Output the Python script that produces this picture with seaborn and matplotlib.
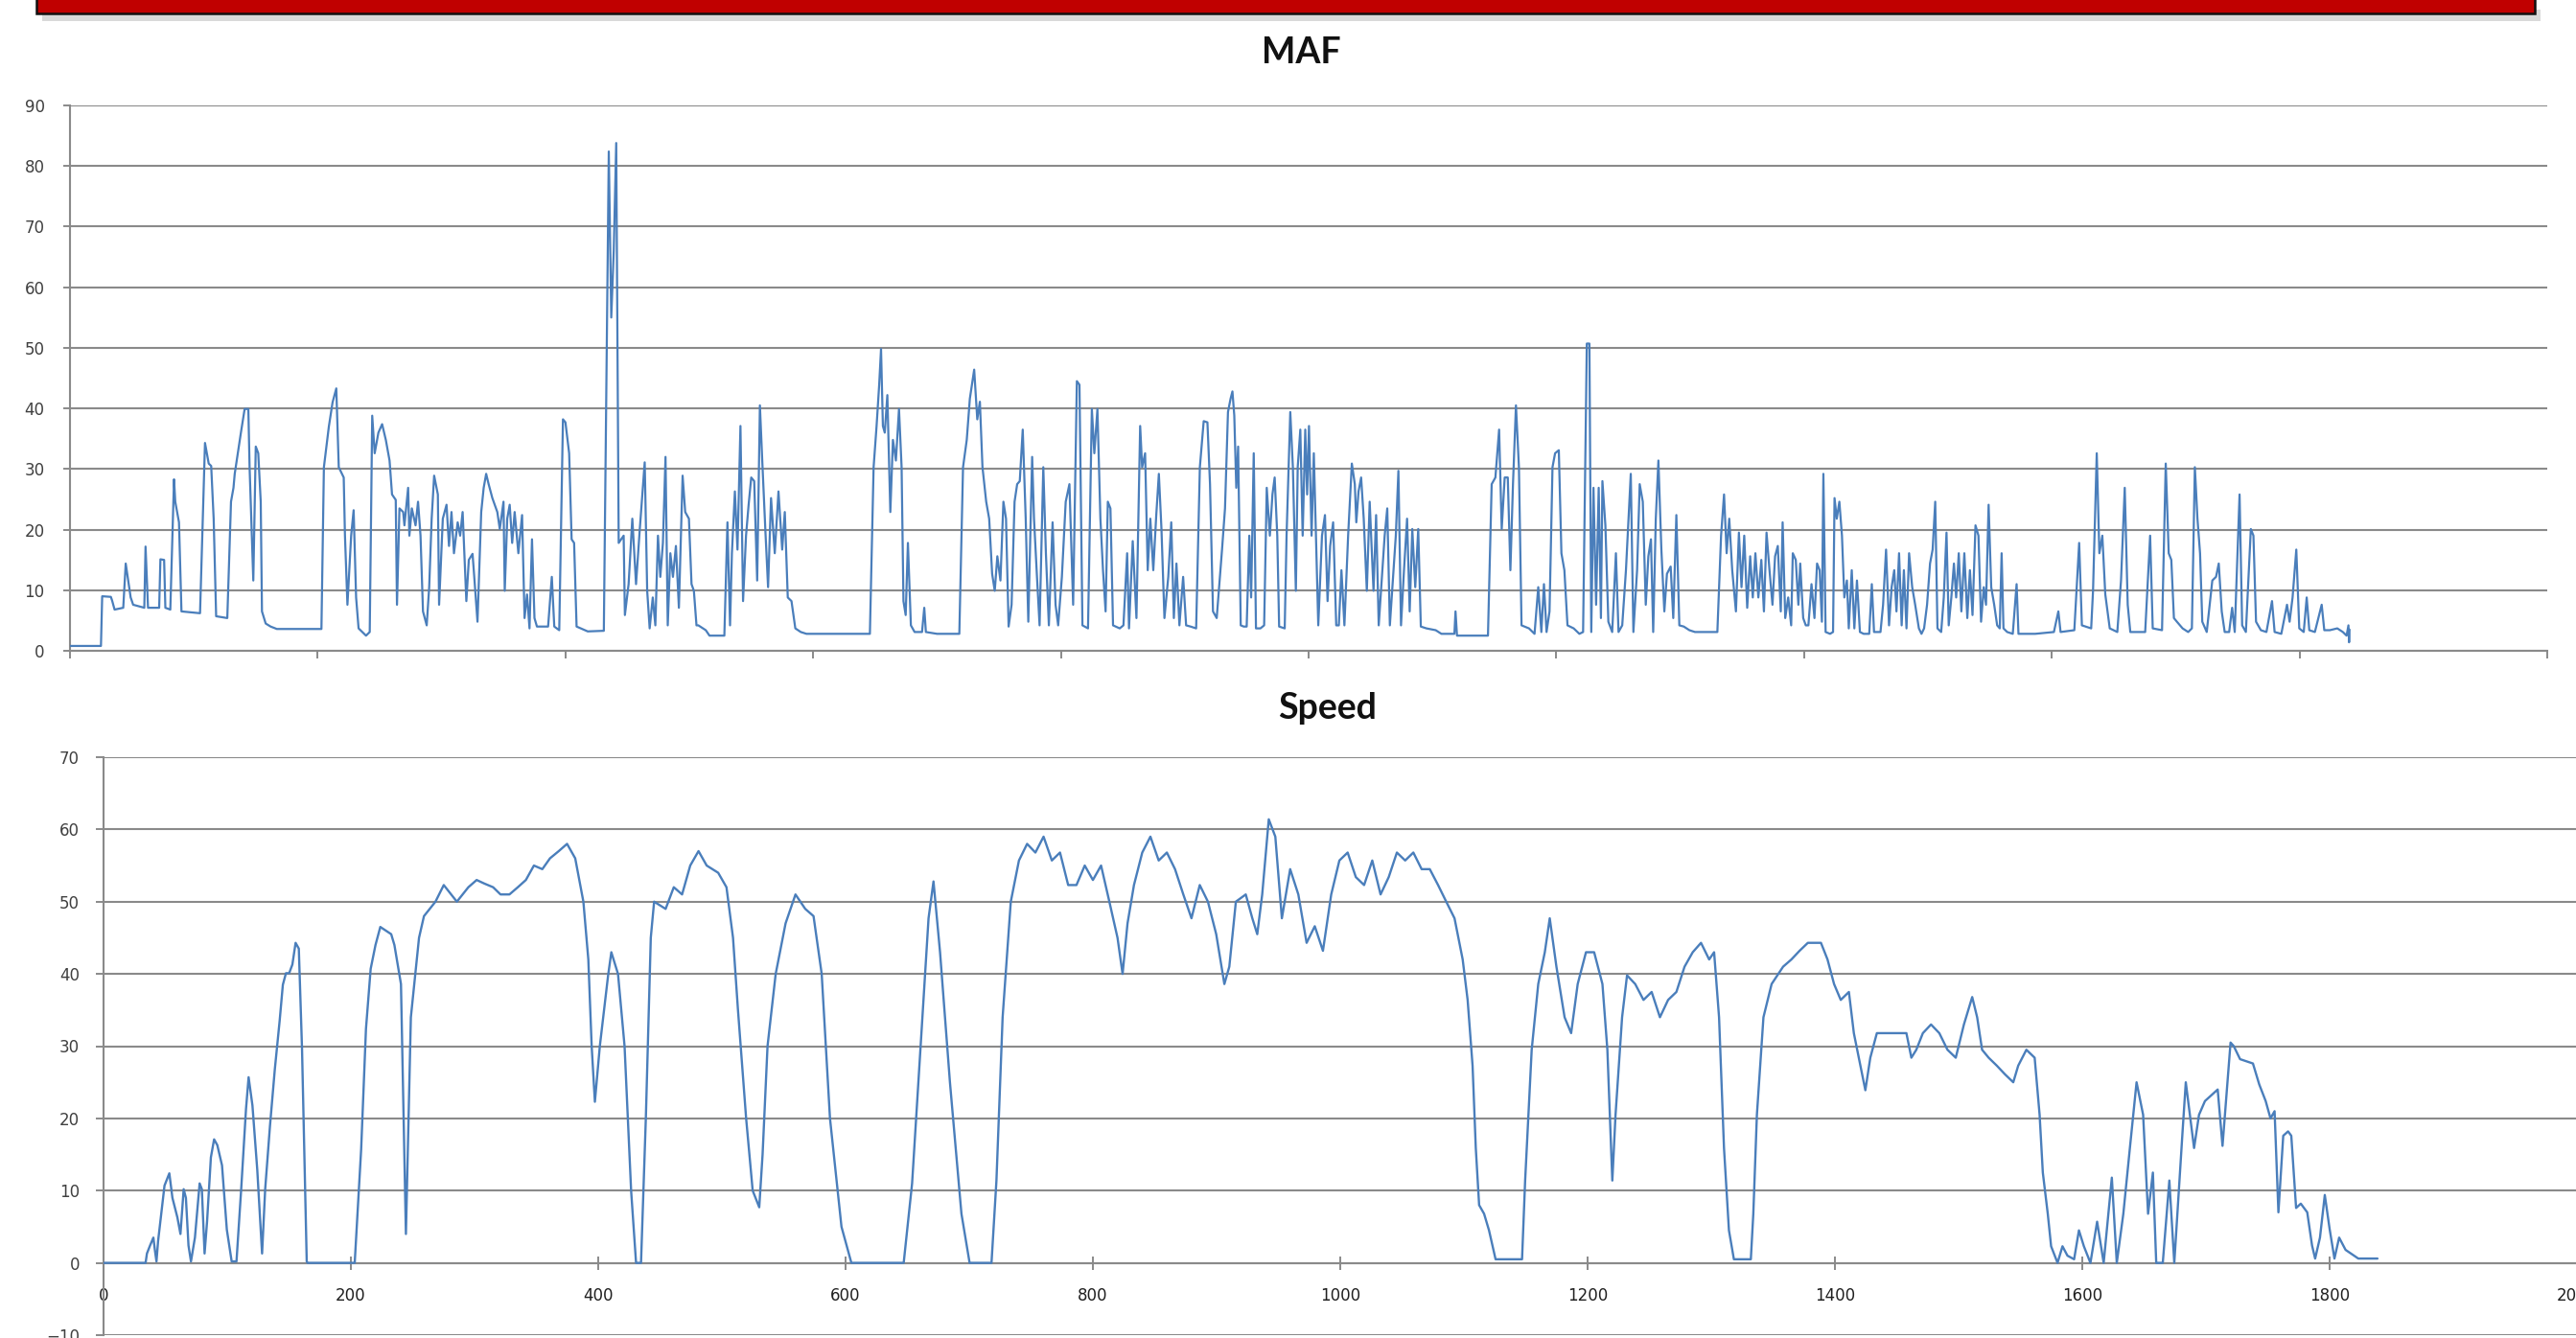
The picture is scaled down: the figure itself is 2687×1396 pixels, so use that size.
import matplotlib
matplotlib.use("Agg")
import matplotlib.pyplot as plt
from matplotlib.patches import Rectangle
import pandas as pd
import seaborn as sns

# ---------------- data ----------------
maf_t = [0, 25, 26, 33, 34, 36, 43, 45, 46, 49, 51, 60, 61, 63, 72, 73, 76, 77, 81, 84, 85, 88, 90, 105,
         109, 112, 114, 116, 118, 127, 130, 132, 133, 138, 141, 144, 145, 148, 150, 152, 154, 155, 158, 162,
         167, 203, 205, 209, 212, 215, 217, 221, 222, 224, 227, 229, 231, 233, 239, 242, 244, 246, 249, 252,
         255, 258, 260, 263, 264, 266, 269, 270, 273, 274, 276, 279, 281, 283, 285, 288, 290, 292, 294, 297,
         298, 301, 304, 306, 308, 310, 313, 315, 317, 320, 322, 325, 326, 329, 332, 334, 336, 338, 341, 345,
         347, 350, 351, 353, 355, 357, 359, 362, 365, 367, 369, 371, 373, 375, 377, 386, 389, 391, 395, 398,
         400, 403, 405, 407, 409, 418, 431, 435, 437, 439, 441, 443, 447, 448, 451, 454, 457, 460, 464, 466,
         468, 470.5, 472.6, 474.7, 476.6, 478.7, 480.8, 482.6, 484.7, 486.8, 489.2, 491.6, 494.6, 496.7, 499.7,
         501.8, 503.7, 505.8, 507.3, 513.3, 516.3, 528.3, 530.8, 532.9, 534.4, 536.8, 538.9, 541.3, 543.4,
         545.8, 547.9, 550, 552.4, 554.8, 557, 559, 561.5, 563.6, 566, 569, 572, 575, 577.1, 579.5, 582.5,
         585.6, 590, 594.6, 645.8, 648.8, 651.2, 653.3, 654.8, 656.3, 657.8, 659.9, 662.3, 664.4, 666.8,
         669.3, 671.4, 672.9, 674.7, 676.5, 678.9, 681.9, 687.9, 689.7, 691, 700, 718, 721, 724, 726.5, 730,
         732.5, 734.6, 736.7, 739.7, 742.1, 744.5, 746.6, 748.7, 751.2, 753.6, 755.7, 757.8, 760.2, 762.6,
         764.7, 766.8, 769.2, 771.6, 773.7, 776.8, 778.3, 780.7, 782.8, 785.8, 787.9, 790.3, 793.3, 795.7,
         797.8, 800.8, 803.9, 806.9, 809.9, 812.9, 815, 817.4, 821.9, 825, 827, 829.5, 831.9, 834, 836.1,
         837.9, 840, 842.1, 847.5, 850.5, 853.5, 855, 858, 861, 864, 865.6, 868, 870.1, 872.2, 874.6, 877,
         879.1, 881.2, 883.6, 886.7, 889.1, 891.2, 893.3, 895.7, 898.7, 901.1, 904.7, 909.2, 912.2, 915.3,
         918.3, 920.4, 922.8, 925.8,
         930.1, 932.5, 934.9, 937, 938.5, 940, 941.6, 943.1, 945.2, 947.6, 950, 952.1, 953.6, 955.7, 957.5,
         961.1, 964.1, 966.2, 968.7, 970.8, 972.6, 974.7, 976.2, 980.7, 982.2, 985.2, 987.3, 989.7, 991.2,
         993.3, 995.2, 997.3, 998.8, 1000.3, 1002.4, 1004.2, 1006.3, 1007.8, 1010.8, 1013.2, 1015.3, 1017.4,
         1019.8, 1022.3, 1024.4, 1026.5, 1028.9, 1031.9, 1034.9, 1037.3, 1038.5, 1040.3, 1042.4, 1044.5,
         1047, 1049.3, 1052.4, 1054.5, 1056.6, 1059, 1061.4, 1063.5, 1065.6, 1068, 1070.4, 1072.5, 1074.6,
         1077, 1079.5, 1081.6, 1083.7, 1086.1, 1088.5, 1090.6, 1095.1, 1102.6, 1107.2, 1117.7, 1118.6,
         1119.8, 1144.8, 1147.8, 1150.8, 1153.8, 1155.9, 1158.3, 1160.8, 1162.9, 1165, 1167.4, 1169.8,
         1171.9, 1177.9, 1182.4, 1185.4, 1187.9, 1190, 1192.1, 1194.5, 1196.9, 1199, 1202, 1204.1, 1206.5,
         1209, 1214, 1218.6, 1221.6, 1224.6, 1226.7, 1228.2, 1230, 1232.1, 1234.2, 1236, 1237.2, 1239.6,
         1242, 1245.1, 1248.1, 1250.2, 1253.2, 1256.2, 1260.1, 1262.2, 1265.2, 1267.3, 1269.8, 1272.2,
         1274.3, 1276.4, 1278.2, 1280.3, 1282.4, 1284.8, 1287.2, 1289.3, 1292.3, 1294.4, 1296.9, 1299.3,
         1302.9, 1307.4, 1311.9, 1330, 1333, 1335.4, 1337.5, 1339.6, 1342, 1345, 1347.4, 1349.5, 1351.7,
         1354.1, 1356.5, 1358.6, 1360.7, 1363.1, 1365.5, 1367.6, 1369.7, 1372.1, 1374.5, 1376.6, 1378.8,
         1381.2, 1382.7, 1384.8, 1387.2, 1389.6,
         1390.9, 1393.3, 1395.4, 1396.9, 1399.3, 1401.4, 1403.5, 1406, 1408.4, 1410.5, 1412.6, 1414.4,
         1415.6, 1417.4, 1421, 1423.4, 1424.6, 1426.4, 1428.5, 1430.6, 1432.5, 1434.6, 1436.1, 1438.5,
         1440.6, 1442.7, 1445.1, 1448.1, 1452.6, 1454.7, 1456.5, 1461.7, 1463.8, 1466.2, 1468.6, 1470.7,
         1472.8, 1474.6, 1476.7, 1478.8, 1480.6, 1482.7, 1484.8, 1487.3, 1489.7, 1492.7, 1494.8, 1496.9,
         1499.3, 1501.7, 1503.8, 1505.9, 1507.7, 1510.7, 1512.8, 1515, 1516.8, 1518.9, 1521, 1522.8, 1524.9,
         1527, 1529.4, 1531.8, 1533.9, 1536, 1538.4, 1540.8, 1542.9, 1545.1, 1546.9, 1549, 1551.1, 1553.5,
         1555.9, 1558, 1559.5, 1561, 1564, 1568.5, 1571.6, 1573.1, 1586.6, 1601.7, 1605.3, 1607.1, 1618.2,
         1622.1, 1624.3, 1631.8, 1633.3, 1636.3, 1638.4, 1640.8, 1643.2, 1646.8, 1652.9, 1655.9, 1658.9,
         1661.3, 1663.4, 1675.4, 1679.4, 1681.5, 1689, 1692, 1694.4, 1696.5, 1698.6, 1701, 1705.6, 1710.1,
         1713.1, 1715.5, 1717.6, 1719.7, 1721.5, 1725.1, 1729.6, 1732.6, 1734.8, 1737.2, 1739.6, 1743.2,
         1745.6, 1747.7, 1751.6, 1753.7, 1756.7, 1760.7, 1762.8, 1764.9, 1768.8, 1773.3, 1777.8, 1779.9,
         1785.3, 1789.9, 1792, 1794.4, 1797.4, 1799.8, 1803.4, 1805.8, 1807.9, 1812.4, 1817.9, 1820, 1824.5,
         1830.5, 1835, 1838, 1839.5, 1840, 1840.4]
maf_val = [0.8, 0.8, 9, 8.9, 8.3, 6.8, 7.1, 14.4, 13, 8.8, 7.6, 7.1, 17.2, 7.1, 7.1, 15.1, 15, 7.1, 6.8, 28.3,
           24.6, 21.2, 6.5, 6.2, 34.3, 30.9, 30.5, 21.8, 5.7, 5.4, 24.6, 26.9, 29.2, 36, 39.9, 39.9, 30.3, 11.6,
           33.7, 32.6, 24.6, 6.5, 4.5, 4.0, 3.6, 3.6, 30.3, 37, 41, 43.3, 30.3, 28.6, 19, 7.6, 19, 23.2, 8.8,
           3.7, 2.5, 3.1, 38.8, 32.6, 36, 37.4, 34.8, 31.4, 25.8, 24.9, 7.6, 23.5, 22.9, 20.7, 26.9, 19, 23.5,
           20.7, 24.6, 19, 6.5, 4.2, 10.5, 21.8, 28.9, 25.8, 7.6, 21.8, 24.1, 17.3, 22.9, 16.1, 21.2, 19, 22.9,
           8.2, 15, 16, 13.3, 4.8, 22.9, 26.9, 29.2, 27.5, 25.2, 22.9, 20.1, 24.6, 9.9, 21.8, 24.1, 17.8, 22.9,
           16.1, 22.4, 5.4, 9.3, 3.7, 18.4, 5.4, 4.0, 4.0, 12.2, 4.0, 3.4, 38.2, 37.7, 32.6, 18.4, 17.8, 4.0,
           3.2, 3.3, 82.4, 55, 66, 83.8, 17.8, 19, 5.9, 11, 21.8, 11, 20, 31.1, 9.9,
           3.7, 8.8, 4.2, 19, 12.2, 17.8, 32, 4.2, 16.1, 12.2, 17.3, 7.1, 28.9, 22.9, 21.8, 11, 9.9, 4.2, 4.2,
           3.4, 2.5, 2.5, 21.2, 4.2, 16.1, 26.3, 16.7, 37.1, 8.2, 19, 24.1, 28.6, 28, 11.6, 40.5, 30.9, 19.5,
           10.5, 25.2, 16.1, 26.3, 16.7, 22.9, 8.8, 8.2, 3.7, 3.1, 2.8, 2.8, 30.3, 37.1, 43.9, 49.8, 37.1, 36,
           42.2, 22.9, 34.8, 31.4, 39.9, 30.3, 8.2, 5.9, 17.8, 4.2, 3.1, 3.1, 7.1, 3.1, 2.8, 2.8, 30.3, 34.8,
           41.6, 46.4, 38.2, 41.1, 30.3, 24.6, 21.8, 12.7, 9.9, 15.6, 11.6, 24.6, 21.8, 4.0, 7.6, 24.6, 27.5,
           28, 36.5, 21.8, 4.8, 32, 21.8, 12.2, 4.2, 30.3, 16.1, 4.2, 21.2, 7.6, 4.2, 12.2, 24.6, 27.5, 7.6,
           44.5, 43.9, 4.2, 3.7, 39.9, 32.6, 39.9, 21.8, 13.3, 6.5, 24.6, 23.5, 4.2, 3.7, 4.2, 16.1, 3.7, 18.1,
           5.4, 37.1, 30.3, 32.6, 13.3, 21.8, 13.3, 22.4, 29.2, 20.1, 5.4, 12.2, 21.2, 5.4, 14.4, 4.2, 12.2,
           4.2, 4.0, 3.7, 30.3, 37.9, 37.7, 27.5, 6.5, 5.4,
           16.7, 23.5, 39.4, 41.6, 42.8, 38.8, 26.9, 33.7, 4.2, 4.0, 4.0, 19, 8.8, 32.6, 3.7, 3.7, 4.2, 26.9,
           19, 25.8, 28.6, 19, 4.0, 3.7, 19, 39.4, 30.3, 9.9, 30.3, 36.5, 19, 36.5, 25.8, 37.1, 19, 32.6, 16.1,
           4.2, 19, 22.4, 8.2, 17.3, 21.2, 4.2, 4.2, 13.3, 4.2, 19, 30.9, 27.5, 21.2, 26.3, 28.6, 21.8, 9.9,
           24.6, 9.9, 22.4, 4.2, 11.6, 19, 23.5, 4.2, 11.6, 19, 29.7, 4.2, 13.3, 21.8, 6.5, 20.1, 10.5, 20.1,
           4.0, 3.7, 3.4, 2.8, 2.8, 6.5, 2.5, 2.5, 27.5, 28.6, 36.5, 20.1, 28.6, 28.6, 13.3, 27.5, 40.5, 30.3,
           4.2, 3.7, 2.8, 10.5, 3.1, 11, 3.1, 6.5, 30.3, 32.6, 33.1, 16.1, 13.3, 4.2, 3.7, 2.8, 3.1, 50.7, 50.7,
           3.1, 26.9, 7.6, 26.9, 5.4, 28, 20.7, 4.8, 3.1, 16.1, 3.1, 4.2, 13.3, 29.2, 3.1, 13.3, 27.5, 24.6,
           7.6, 15.6, 18.4, 3.1, 21.8, 31.4, 16.7, 6.5, 12.7, 13.9, 5.4, 22.4, 4.2, 4.0, 3.4, 3.1, 3.1, 19,
           25.8, 16.1, 21.8, 13.3, 6.5, 19.5, 10.5, 19, 7.1, 15.6, 8.8, 16.1, 8.8, 15, 6.5, 19.5, 13.3, 7.6,
           15.6, 17.3, 6.5, 21.2, 5.4, 8.8, 4.2,
           16.1, 15, 7.6, 14.4, 5.4, 4.2, 4.2, 11, 5.4, 14.4, 13.3, 4.8, 29.2, 3.1, 2.8, 3.1, 25.2, 21.8, 24.6,
           19, 8.8, 11.6, 3.7, 13.3, 3.7, 11.6, 3.1, 2.8, 2.8, 11, 3.1, 3.1, 7.6, 16.7, 4.2, 10.5, 13.3, 6.5,
           16.1, 4.2, 13.3, 3.7, 16.1, 10.5, 7.6, 3.7, 2.8, 3.7, 7.6, 14.4, 16.7, 24.6, 3.7, 3.1, 8.8, 19.5,
           4.2, 8.8, 14.4, 8.8, 16.1, 6.5, 16.1, 5.4, 13.3, 5.9, 20.7, 19, 4.8, 10.5, 7.6, 24.1, 10.5, 7.6, 4.2,
           3.7, 16.1, 3.7, 3.1, 2.8, 11, 2.8, 2.8, 3.1, 6.5, 3.1, 3.4, 17.8, 4.2, 3.7, 9.9, 32.6, 16.1, 19, 9.3,
           3.7, 3.1, 11.6, 26.9, 7.6, 3.1, 3.1, 19, 3.7, 3.4, 30.9, 16.1, 15, 5.4, 4.8, 3.7, 3.1, 3.7, 30.3,
           21.8, 16.1, 4.8, 3.1, 11.6, 12.2, 14.4, 6.5, 3.1, 3.1, 7.1, 3.1, 25.8, 4.2, 3.1, 20.1, 19, 4.8, 3.4,
           3.1, 8.2, 3.1, 2.8, 7.6, 4.8, 8.8, 16.7, 3.7, 3.1, 8.8, 3.4, 3.1, 7.6, 3.4, 3.4, 3.7, 3.1, 2.5, 4.2,
           1.4, 3.5]

speed_t = [0, 34, 35.1, 37.6, 40.3, 41.5, 42.8, 44.1, 46.7, 49.3, 53.2, 55.7, 59.7, 62.2, 64.8, 66.6, 68.7,
           70.7, 73.9, 77.7, 79.5, 81.7, 83.7, 86.8, 89.4, 92, 95.8, 99.7, 103.6, 107.5, 111.3, 115.2, 117.3,
           120.4, 124.3, 128.2, 130.7, 134.6, 138.5, 142.4, 145, 147.5, 150.1, 152.7, 155.3, 157.9, 160.5,
           164.3, 165, 203.1, 208.3, 212.2, 216, 219.9, 223.8, 232.6, 235.2, 240.5, 244.5, 248.5, 255.1,
           259.1, 268.4, 275.1, 285.7, 295, 301.7, 308, 315, 321, 328.2, 335, 341.5, 348, 354.8, 361, 368.1,
           374.8, 381.4, 388, 392,
           394.7, 397.3, 401.3, 408, 410.6, 416, 421.3, 426.6, 430.6, 434.6, 438.5, 442.5, 445.2, 454.5,
           461.1, 467.8, 474.4, 481.1, 487.7, 497, 503.7, 509, 513, 519.6, 524.9, 530.2, 532.9, 536.9, 543.5,
           551.5, 559.5, 567.4, 574.1, 580.7, 587.4, 596.7, 604.7, 647, 653.8, 660.5, 667.1, 671.1, 676.4,
           684.4, 693.7, 700.3, 718, 722, 727, 733.6, 740.2, 746.8, 753.5, 760.1, 766.8, 773.4, 780, 786.7,
           793.4, 800, 806.6, 813.3, 819.9, 824, 828, 833.2, 839.9, 846.5, 853.2, 859.8, 866.4, 873.1, 879.7,
           886.4, 893, 899.7, 906.3, 910.3, 915.6, 923.6, 928.9, 932.9, 936.9, 942.2, 947.5, 952.8, 959.5,
           966.1, 972.8, 979.4, 986, 992.7, 999.3, 1006, 1012.6, 1019.3, 1025.9, 1032.6, 1039.2, 1045.8,
           1052.5, 1059.1, 1065.8, 1072.4, 1079.1, 1085.7, 1092.4, 1099, 1103, 1107, 1109.6, 1112.3, 1116.3,
           1120.3, 1125.6, 1147, 1149.5, 1154.8, 1160.1, 1165.4, 1169.4, 1174.8, 1181.4, 1186.7, 1192,
           1198.7, 1205.3, 1212, 1216, 1220, 1222.6, 1227.9, 1231.9, 1238.5, 1245.2, 1251.8, 1258.5, 1265.1,
           1271.8, 1278.4, 1285, 1291.7, 1298.3, 1302.3, 1306.3, 1310.3, 1314.3, 1318.3, 1332, 1334, 1336.9,
           1342.2, 1348.8, 1358.1, 1364.8, 1371.4, 1378.1, 1388.7, 1394, 1399.3, 1404.7, 1411.3, 1415.3,
           1420.6, 1424.6, 1428.6, 1433.9, 1444.5, 1457.8, 1461.8, 1465.8, 1471.1, 1477.7, 1484.4, 1491,
           1497.7, 1504.3, 1511, 1515, 1519, 1524.3, 1530.9, 1537.5, 1544.2, 1548.2, 1554.8, 1561.5, 1565.5,
           1568.1, 1572.1, 1574.8, 1580, 1584, 1588, 1593.4, 1597.3, 1601.3, 1606.6, 1612, 1617.3, 1623.9,
           1627.9, 1633.2, 1638.5, 1643.9, 1649.2, 1653.2, 1657.1, 1659.8, 1665.1, 1670.4, 1674.4, 1681.1,
           1683.7, 1690.4, 1694.4, 1699.2, 1709.5, 1713.4, 1719.9, 1722.5, 1727.6, 1738, 1743.1, 1748.3,
           1752.2, 1755.5, 1758.6, 1762.5, 1766.4, 1769, 1772.9, 1776.7, 1781.9, 1785.8, 1788.3, 1792.2,
           1796.1, 1800, 1803.9, 1807.7, 1812.9, 1818.1, 1823.2, 1828.4, 1838.7]
speed_val = [0, 0, 1.3, 2.4, 3.5, 1.8, 0.2, 3, 6.8, 10.7, 12.4, 9, 6.3, 4, 10.2, 9, 2.4, 0.2, 3.5, 11, 10.2,
             1.3, 5.7, 14.6, 17.1, 16.3, 13.5, 4.6, 0.2, 0.2, 10.2, 21.3, 25.7, 21.8, 12.9, 1.3, 10.2, 19,
             26.8, 33.5, 38.5, 40.1, 40.1, 41.3, 44.3, 43.5, 29.6, 0.2, 0, 0, 15.7, 32.4, 40.7, 44, 46.5, 45.5,
             44, 38.6, 4, 34, 45, 48, 50, 52.3, 50, 52, 53, 52.5, 52, 51, 51, 52, 53, 55, 54.5, 56, 57, 58,
             56, 50, 42,
             30, 22.3, 30,
             39.8, 43, 40, 30, 10, 0, 0, 20, 45, 50, 49, 52, 51, 55, 57, 55, 54, 52, 45, 35, 20, 10, 7.7, 15,
             30, 40, 47, 51, 49, 48, 40, 20, 5, 0, 0, 11, 29.5, 47.7, 52.8, 43, 25, 6.8, 0, 0, 11.4, 34, 50,
             55.7, 58, 56.8, 59, 55.7, 56.8, 52.3, 52.3, 55, 53, 55, 50, 45, 40, 47, 52.3, 56.8, 59, 55.7,
             56.8, 54.5, 51, 47.7, 52.3, 50, 45.5, 38.6, 41, 50, 51, 47.7, 45.5, 51, 61.4, 59, 47.7, 54.5, 51,
             44.3, 46.6, 43.2, 51, 55.7, 56.8, 53.4, 52.3, 55.7, 51, 53.4, 56.8, 55.7, 56.8, 54.5, 54.5, 52.3,
             50, 47.7, 42, 36.4, 27.3, 15.9, 8, 6.8, 4.5, 0.5, 0.5, 11.4, 29.5, 38.6, 43, 47.7, 41, 34, 31.8,
             38.6, 43, 43, 38.6, 29.5, 11.4, 20.5, 34, 39.8, 38.6, 36.4, 37.5, 34, 36.4, 37.5, 41, 43, 44.3,
             42, 43, 34, 15.9, 4.5, 0.5, 0.5, 6.8, 20.5, 34, 38.6, 41, 42, 43.2, 44.3, 44.3, 42, 38.6, 36.4,
             37.5, 31.8, 27.3, 23.9, 28.4, 31.8, 31.8, 31.8, 28.4, 29.5, 31.8, 33, 31.8, 29.5, 28.4, 33, 36.8,
             34, 29.5, 28.4, 27.3, 26.1, 25, 27.3, 29.5, 28.4, 20.5, 12.5, 6.8, 2.3, 0, 2.3, 1, 0.5, 4.5, 2.3,
             0, 5.7, 0, 11.8, 0, 6.8, 15.9, 25, 20.5, 6.8, 12.5, 0, 0, 11.4, 0, 18.2, 25, 15.9, 20.5, 22.4, 24,
             16.2, 30.5, 30, 28.2, 27.6, 24.7, 22.4, 20, 21, 7, 17.6, 18.2, 17.6, 7.6, 8.2, 7, 2.4, 0.6, 3.5,
             9.4, 4.7, 0.6, 3.5, 1.8, 1.2, 0.6, 0.6, 0.6]

x_ticks = [0, 200, 400, 600, 800, 1000, 1200, 1400, 1600, 1800, 2000]
maf_yticks = [0, 10, 20, 30, 40, 50, 60, 70, 80, 90]
speed_yticks = [-10, 0, 10, 20, 30, 40, 50, 60, 70]
titles = ["MAF", "Speed"]

# ---------------- style ----------------
sns.set_theme(style="white")
plt.rcParams['font.family'] = ['DejaVu Sans']

W, H = 2687, 1396
LINE = "#4A7EBB"
GRAY = "#8A8A8A"
TXT = "#404040"

fig = plt.figure(figsize=(W / 100, H / 100), dpi=100)
fig.patch.set_facecolor("white")

# red banner with shadow
fig.add_artist(Rectangle((44 / W, 1 - 22 / H), 2606 / W, 12 / H, transform=fig.transFigure,
                         facecolor="#d9d9d9", edgecolor="none", zorder=0))
fig.add_artist(Rectangle((38 / W, 1 - 14 / H), 2606 / W, 30 / H, transform=fig.transFigure,
                         facecolor="#C00000", edgecolor="#111111", linewidth=1.8, zorder=1))

ax1 = fig.add_axes([73 / W, 1 - 679 / H, 2584 / W, (679 - 110) / H])
ax2 = fig.add_axes([108 / W, 1 - 1393 / H, 2580 / W, (1393 - 790) / H])

df_maf = pd.DataFrame({"t": maf_t, "v": maf_val})
df_spd = pd.DataFrame({"t": speed_t, "v": speed_val})

sns.lineplot(data=df_maf, x="t", y="v", ax=ax1, color=LINE, linewidth=1.6,
             estimator=None, sort=False, zorder=3)
sns.lineplot(data=df_spd, x="t", y="v", ax=ax2, color=LINE, linewidth=1.7,
             estimator=None, sort=False, zorder=3)

for ax in (ax1, ax2):
    ax.set_facecolor("white")
    ax.set_xlabel("")
    ax.set_ylabel("")
    ax.set_xlim(0, 2000)
    ax.set_xticks(x_ticks)
    ax.set_axisbelow(True)
    ax.yaxis.grid(True, color=GRAY, linewidth=1.5)
    ax.xaxis.grid(False)
    for s in ("top", "right"):
        ax.spines[s].set_visible(False)
    for s in ("left", "bottom"):
        ax.spines[s].set_visible(True)
        ax.spines[s].set_color(GRAY)
        ax.spines[s].set_linewidth(1.5)

# top: MAF
ax1.set_ylim(0, 90)
ax1.set_yticks(maf_yticks)
ax1.tick_params(axis="y", direction="out", length=5, width=1.4, color=GRAY,
                labelsize=12, labelcolor=TXT, pad=14, left=True)
ax1.tick_params(axis="x", direction="out", length=6, width=1.4, color=GRAY,
                labelbottom=False, bottom=True)

# bottom: Speed
ax2.set_ylim(-10, 70)
ax2.set_yticks(speed_yticks)
ax2.spines["bottom"].set_position(("data", 0))
ax2.spines["left"].set_bounds(-10, 70)
ax2.tick_params(axis="y", direction="out", length=6, width=1.4, color=GRAY,
                labelsize=12, labelcolor=TXT, pad=12, left=True)
ax2.tick_params(axis="x", direction="inout", length=10, width=1.4, color=GRAY,
                labelsize=12, labelcolor="#202020", pad=13, bottom=True)
ax2.set_xticklabels([str(v) for v in x_ticks])

fig.text(1357 / W, 1 - 55 / H, titles[0], ha="center", va="center", fontsize=27,
         fontweight="bold", family=["Lato", "DejaVu Sans"], color="#111111")
fig.text(1385 / W, 1 - 739 / H, titles[1], ha="center", va="center", fontsize=27,
         fontweight="bold", family=["Lato", "DejaVu Sans"], color="#111111")

fig.savefig("out.png", dpi=100, facecolor="white")
